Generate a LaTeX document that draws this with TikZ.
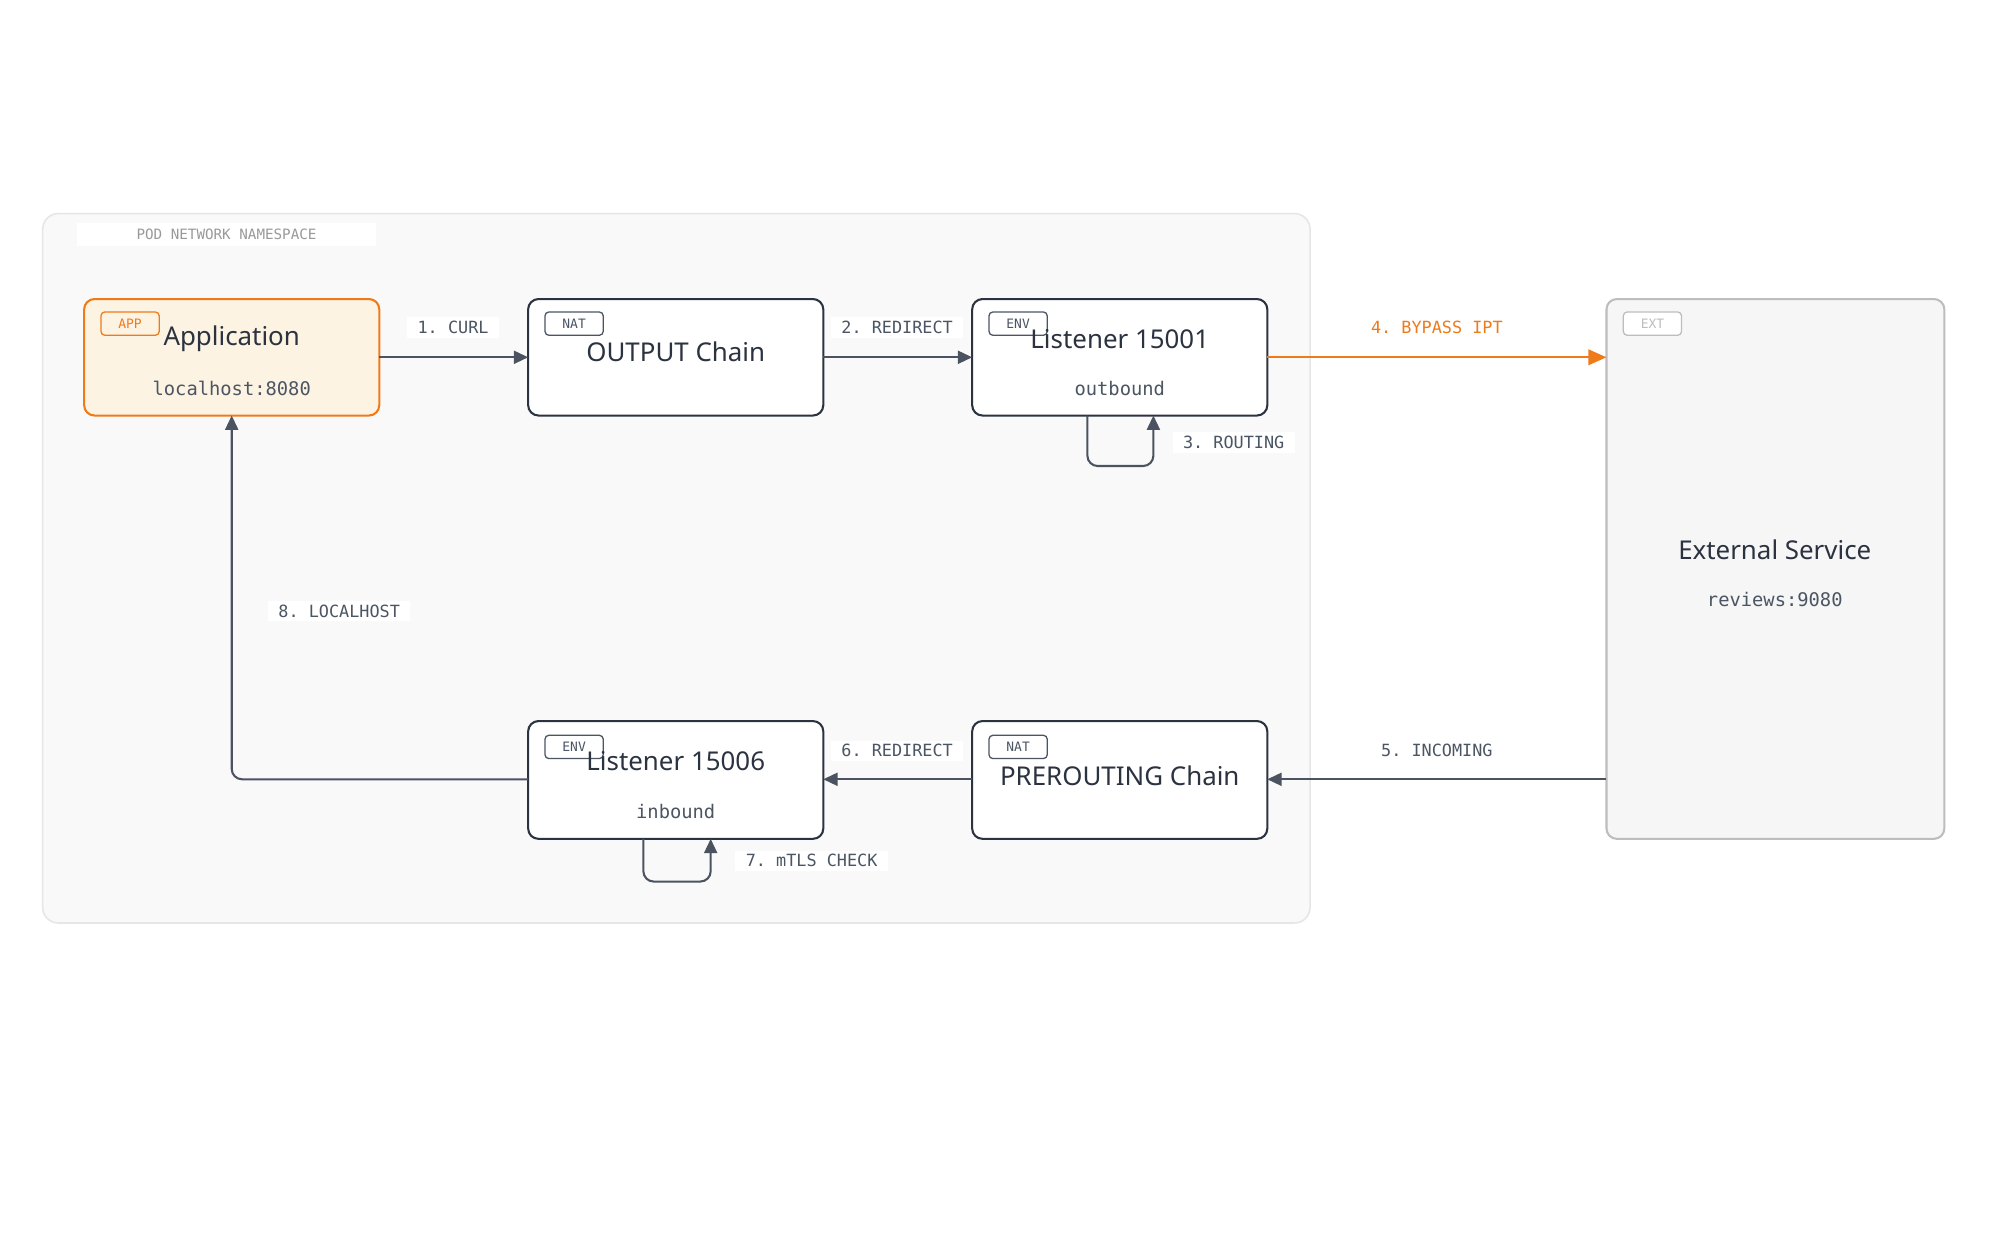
\documentclass[tikz,border=0pt]{standalone}
\usepackage{fontspec}
\setmainfont{Noto Sans}
\setmonofont{DejaVu Sans Mono}
\usetikzlibrary{arrows.meta}
\definecolor{dk}{HTML}{2B3240}
\definecolor{arr}{HTML}{4B5260}
\definecolor{lbl}{HTML}{4B5563}
\definecolor{org}{HTML}{EF7A1A}
\definecolor{appbg}{HTML}{FDF3E3}
\definecolor{podbg}{HTML}{F9F9F9}
\definecolor{podln}{HTML}{E6E6E6}
\definecolor{extbg}{HTML}{F6F6F6}
\definecolor{extln}{HTML}{BDBDBD}
\tikzset{
 box/.style={draw=dk,line width=1.6pt,rounded corners=8pt,fill=white},
 tag/.style={draw=#1,line width=1pt,rounded corners=3pt,fill=white,minimum width=45pt,minimum height=18pt,inner sep=0pt,font=\ttfamily\fontsize{10}{10}\selectfont,text=#1},
 ttl/.style={font=\fontsize{20}{24}\selectfont\bfseries,text=dk},
 sub/.style={font=\ttfamily\fontsize{14.5}{16}\selectfont,text=lbl},
 elab/.style={font=\ttfamily\fontsize{13}{15}\selectfont,text=lbl,fill=white,inner xsep=8pt,inner ysep=3pt},
 con/.style={draw=arr,line width=1.6pt,-{Triangle[length=11pt,width=10pt]}},
}
\begin{document}
\begin{tikzpicture}[x=1pt,y=-1pt]
\useasboundingbox[fill=white] (0,0) rectangle (1545,967);
\draw[podln,fill=podbg,line width=1.2pt,rounded corners=12pt] (33,165) rectangle (1012,713);
\node[fill=white,minimum width=231pt,minimum height=18pt,font=\ttfamily\fontsize{11}{12}\selectfont,text=gray!80] (podl) at (175,181) {POD NETWORK NAMESPACE};
% boxes
\draw[draw=org,fill=appbg,line width=1.6pt,rounded corners=8pt] (65,231) rectangle (293,321);
\coordinate (app) at (179,276);
\node[tag=org,fill=appbg] (apptag) at (100.5,250) {APP};
\node[ttl] (appt) at (179,262) {Application};
\node[sub] (apps) at (179,300) {localhost:8080};
\draw[box] (408,231) rectangle (636,321);
\node[tag=lbl] (nat1) at (443.5,250) {NAT};
\node[ttl] (outt) at (522,272) {OUTPUT Chain};
\draw[box] (751,231) rectangle (979,321);
\node[tag=lbl] (env1) at (786.5,250) {ENV};
\node[ttl] (l1t) at (865,262) {Listener 15001};
\node[sub] (l1s) at (865,300) {outbound};
\draw[draw=extln,fill=extbg,line width=1.6pt,rounded corners=8pt] (1241,231) rectangle (1502,648);
\node[tag=extln,text=extln] (exttag) at (1276.5,250) {EXT};
\node[ttl] (extt) at (1371,425) {External Service};
\node[sub] (exts) at (1371,463) {reviews:9080};
\draw[box] (408,557) rectangle (636,648);
\node[tag=lbl] (env2) at (443.5,577) {ENV};
\node[ttl] (l2t) at (522,588) {Listener 15006};
\node[sub] (l2s) at (522,627) {inbound};
\draw[box] (751,557) rectangle (979,648);
\node[tag=lbl] (nat2) at (786.5,577) {NAT};
\node[ttl] (pret) at (865,599) {PREROUTING Chain};
% anchor coordinates
\coordinate (appR) at (293,276); \coordinate (outL) at (408,276);
\coordinate (outR) at (636,276); \coordinate (l1L) at (751,276);
\coordinate (l1R) at (979,276); \coordinate (extL) at (1241,276);
\coordinate (extL2) at (1241,602); \coordinate (preR) at (979,602);
\coordinate (preL) at (751,602); \coordinate (l2R) at (636,602);
\coordinate (l2L) at (408,602); \coordinate (appB) at (179,321);
\coordinate (l1b1) at (840,321); \coordinate (l1b2) at (891,321);
\coordinate (l2b1) at (497,648); \coordinate (l2b2) at (549,648);
% connectors
\draw[con] (appR) -- (outL);
\draw[con] (outR) -- (l1L);
\draw[con,draw=org,-{Triangle[length=14pt,width=12pt]}] (l1R) -- (extL);
\draw[con,rounded corners=8pt] (l1b1) -- ++(0,39) -| (l1b2);
\draw[con] (extL2) -- (preR);
\draw[con] (preL) -- (l2R);
\draw[con,rounded corners=8pt] (l2b1) -- ++(0,33) -| (l2b2);
\draw[con,rounded corners=8pt] (l2L) -| (appB);
% labels
\node[elab] (e1) at (350,253) {1. CURL};
\node[elab] (e2) at (693,253) {2. REDIRECT};
\node[elab] (e3) at (953,342) {3. ROUTING};
\node[elab,text=org] (e4) at (1110,253) {4. BYPASS IPT};
\node[elab] (e5) at (1110,580) {5. INCOMING};
\node[elab] (e6) at (693,580) {6. REDIRECT};
\node[elab] (e7) at (627,665) {7. mTLS CHECK};
\node[elab] (e8) at (262,472) {8. LOCALHOST};
\end{tikzpicture}
\end{document}
